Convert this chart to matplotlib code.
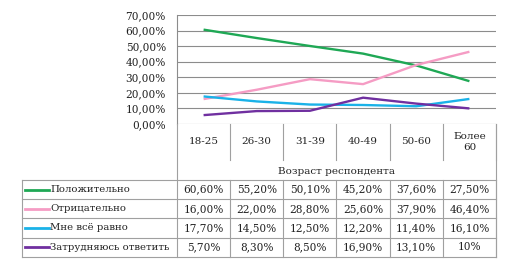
import numpy as np
import matplotlib.pyplot as plt

# Данные
ages = ['18-25', '26-30', '31-39', '40-49', '50-60', 'Более\n60']
series = ['Положительно', 'Отрицательно', 'Мне всё равно', 'Затрудняюсь ответить']
values = [
    [60.6, 55.2, 50.1, 45.2, 37.6, 27.5],
    [16.0, 22.0, 28.8, 25.6, 37.9, 46.4],
    [17.7, 14.5, 12.5, 12.2, 11.4, 16.1],
    [5.7, 8.3, 8.5, 16.9, 13.1, 10.0],
]
cell_text = [
    ['60,60%', '55,20%', '50,10%', '45,20%', '37,60%', '27,50%'],
    ['16,00%', '22,00%', '28,80%', '25,60%', '37,90%', '46,40%'],
    ['17,70%', '14,50%', '12,50%', '12,20%', '11,40%', '16,10%'],
    ['5,70%', '8,30%', '8,50%', '16,90%', '13,10%', '10%'],
]
colors = ['#1fa855', '#f59cc4', '#1ab2e8', '#7030a0']
xlabel = 'Возраст респондента'

W, H = 510, 265
plt.rcParams['font.family'] = ['DejaVu Serif']
fig = plt.figure(figsize=(W / 100, H / 100), dpi=100)

# Область графика (в пикселях)
x0, x1 = 177, 496
ytop, ybot = 15, 124
ax = fig.add_axes([x0 / W, 1 - ybot / H, (x1 - x0) / W, (ybot - ytop) / H])
ax.set_xlim(0, 6)
ax.set_ylim(0, 70)
ax.set_yticks(np.arange(0, 71, 10))
ax.set_yticklabels(['%d,00%%' % v for v in range(0, 71, 10)], fontsize=7.6, color='#222222')
ax.set_xticks([])
ax.grid(axis='y', color='#8c8c8c', linewidth=0.8)
ax.set_axisbelow(True)
for s in ['top', 'right', 'bottom']:
    ax.spines[s].set_visible(False)
ax.spines['left'].set_color('#8c8c8c')
ax.spines['left'].set_linewidth(0.8)
ax.tick_params(axis='y', length=0, pad=8)
xs = np.arange(len(ages)) + 0.5
for vals, c in zip(values, colors):
    ax.plot(xs, vals, color=c, linewidth=1.7, solid_capstyle='butt')

# Таблица под графиком (пиксельные координаты)
tb = fig.add_axes([0, 0, 1, 1])
tb.set_xlim(0, W)
tb.set_ylim(H, 0)
tb.axis('off')
lc = '#a0a0a0'
colx = [x0 + i * (x1 - x0) / 6 for i in range(7)]
left = 22
row_top = 180
rh = 19.2
nrows = len(series)
row_bot = row_top + nrows * rh

# вертикальные линии подписей категорий
for cx in colx[1:]:
    tb.plot([cx, cx], [ybot, 160], color=lc, lw=0.8)
    tb.plot([cx, cx], [row_top, row_bot], color=lc, lw=0.8)
tb.plot([x1, x1], [ybot, row_bot], color=lc, lw=0.8)
tb.plot([x0, x0], [ybot, row_bot], color=lc, lw=0.8)
tb.plot([left, left], [row_top, row_bot], color=lc, lw=0.8)
for r in range(nrows + 1):
    y = row_top + r * rh
    tb.plot([left, x1], [y, y], color=lc, lw=0.8)

for i, a in enumerate(ages):
    cx = (colx[i] + colx[i + 1]) / 2
    tb.text(cx, 142, a, ha='center', va='center', fontsize=7.5, color='#222222',
            linespacing=1.4)
tb.text((x0 + x1) / 2, 171, xlabel, ha='center', va='center', fontsize=7.5, color='#222222')

for r, (name, c) in enumerate(zip(series, colors)):
    yc = row_top + (r + 0.5) * rh
    tb.plot([25, 49], [yc, yc], color=c, lw=2)
    tb.text(50, yc, name, ha='left', va='center', fontsize=7.3, color='#222222')
    for i, t in enumerate(cell_text[r]):
        cx = (colx[i] + colx[i + 1]) / 2
        tb.text(cx, yc, t, ha='center', va='center', fontsize=7.6, color='#222222')

fig.savefig('out.png', dpi=100)
